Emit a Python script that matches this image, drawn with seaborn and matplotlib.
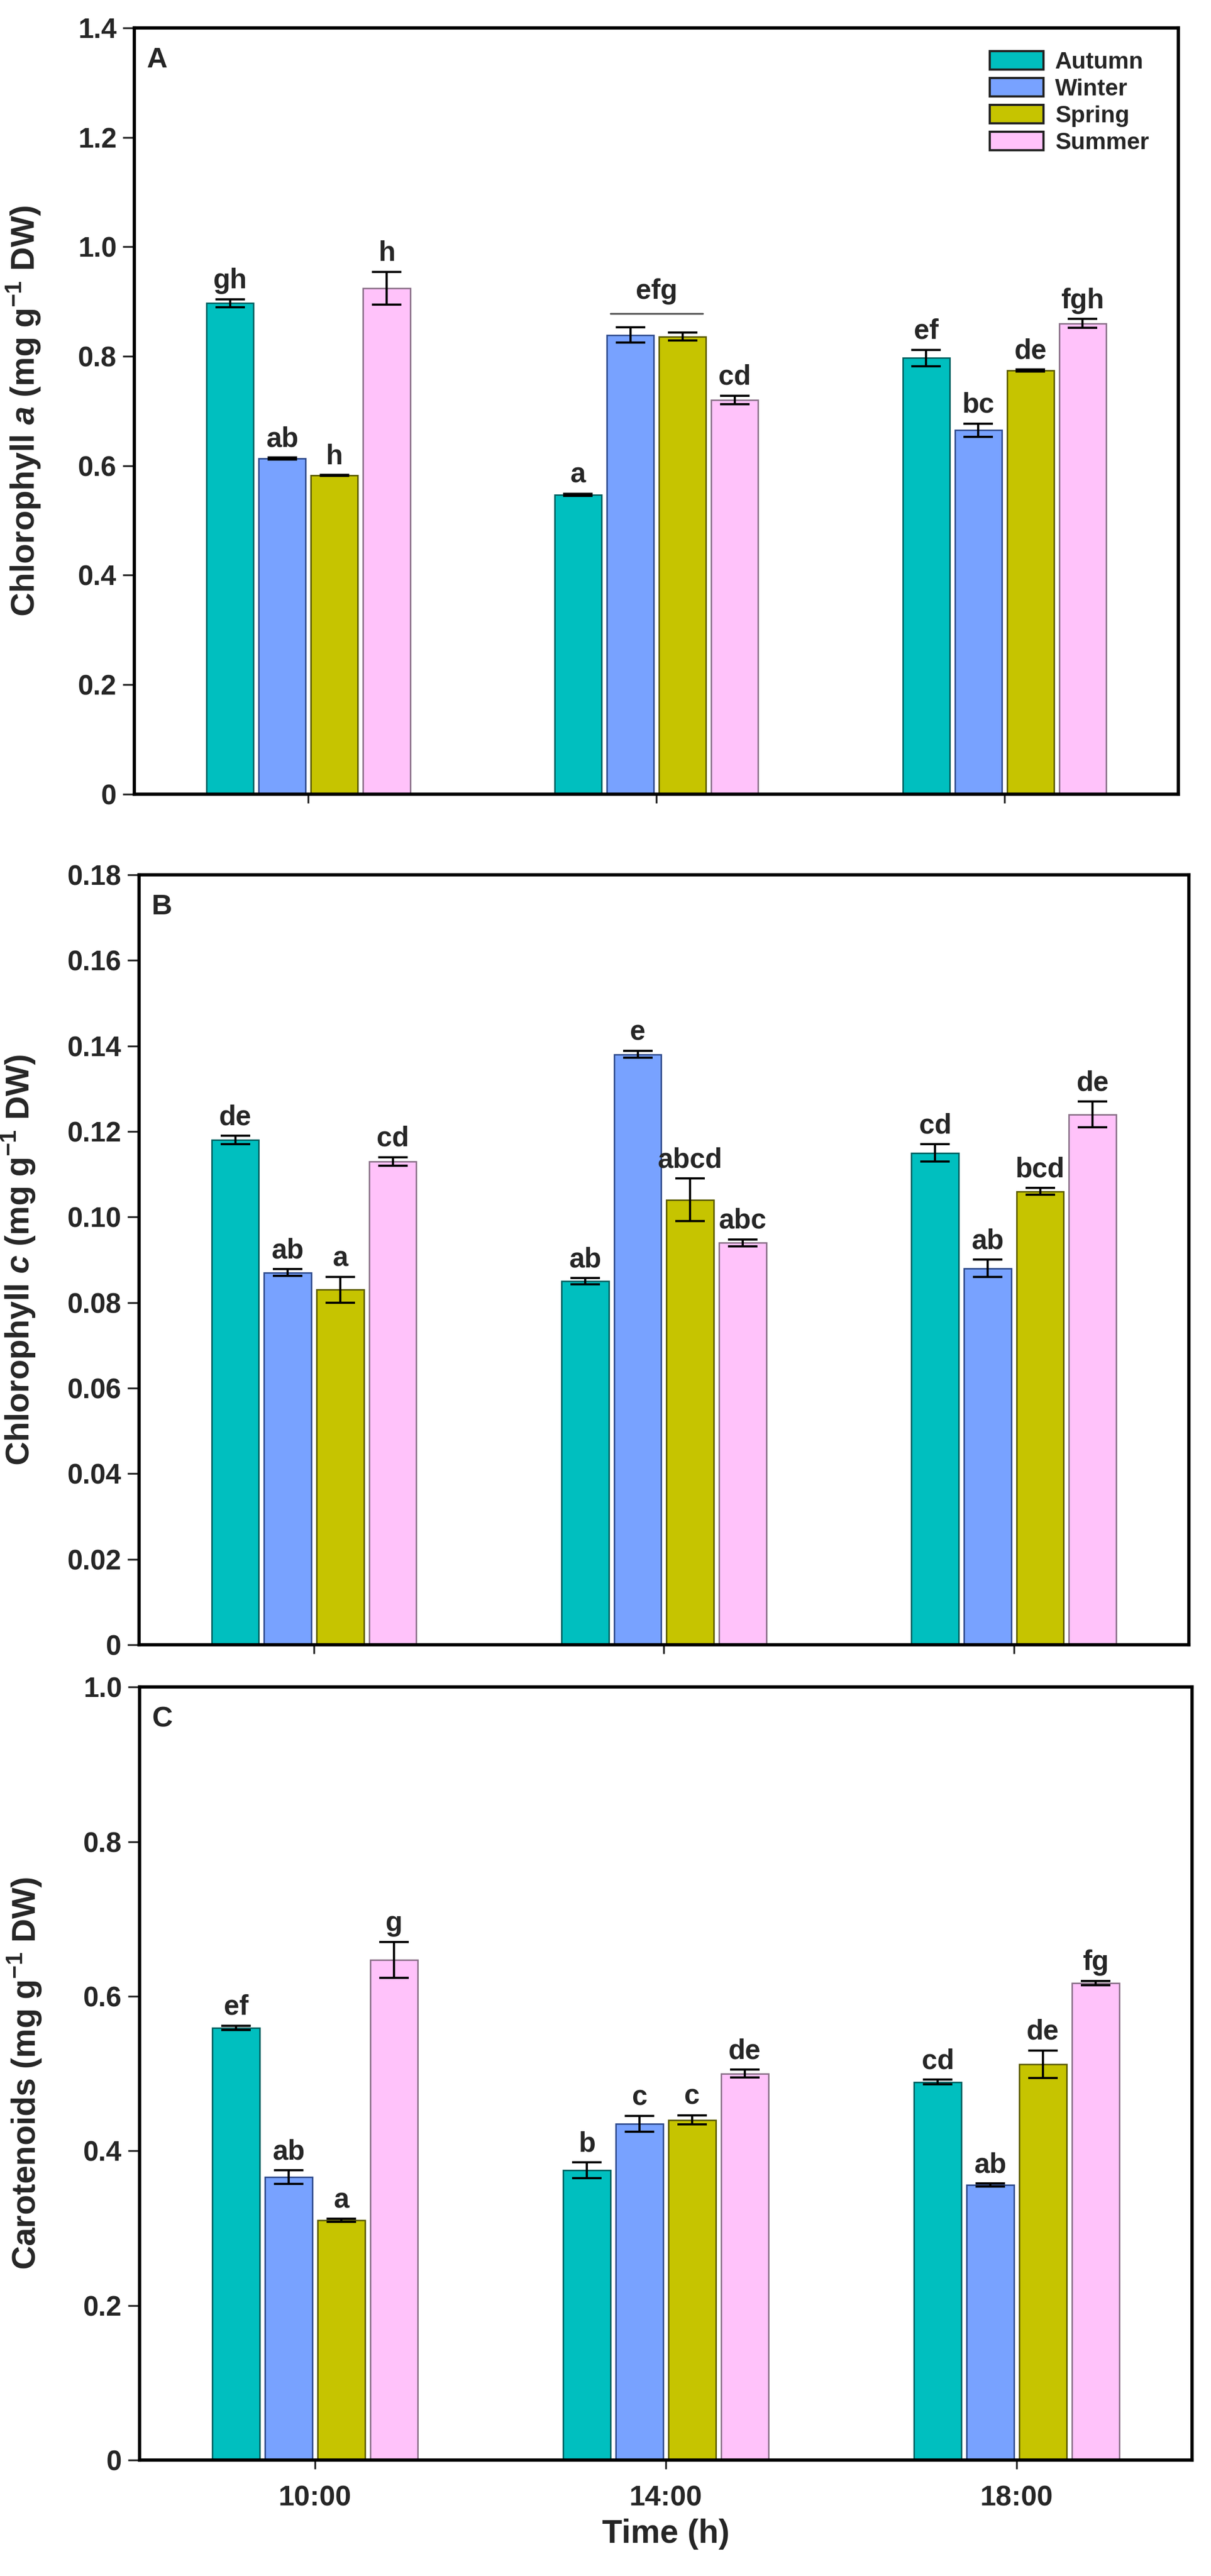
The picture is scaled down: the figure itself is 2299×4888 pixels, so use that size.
import numpy as np
import pandas as pd
import matplotlib
matplotlib.use("Agg")
import matplotlib.pyplot as plt
import seaborn as sns

# data
times = ["10:00", "14:00", "18:00"]
seasons = ["Autumn", "Winter", "Spring", "Summer"]
season_colors = ["#00BFBF", "#78A2FF", "#C6C400", "#FFC2FA"]
season_edges = ["#005F5F", "#2E4A8C", "#5A5A00", "#8A7088"]

# chlorophyll a, rows = season, cols = time
chla = [[0.897, 0.547, 0.797],
        [0.613, 0.839, 0.665],
        [0.582, 0.836, 0.774],
        [0.924, 0.720, 0.860]]
chla_err = [[0.007, 0.002, 0.015],
            [0.002, 0.014, 0.012],
            [0.001, 0.007, 0.002],
            [0.030, 0.008, 0.008]]
chla_let = [["gh", "a", "ef"],
            ["ab", "", "bc"],
            ["h", "", "de"],
            ["h", "cd", "fgh"]]

# chlorophyll c
chlc = [[0.118, 0.085, 0.115],
        [0.087, 0.138, 0.088],
        [0.083, 0.104, 0.106],
        [0.113, 0.094, 0.124]]
chlc_err = [[0.001, 0.0007, 0.002],
            [0.0008, 0.0008, 0.002],
            [0.003, 0.005, 0.0008],
            [0.001, 0.0008, 0.003]]
chlc_let = [["de", "ab", "cd"],
            ["ab", "e", "ab"],
            ["a", "abcd", "bcd"],
            ["cd", "abc", "de"]]

# carotenoids
car = [[0.559, 0.375, 0.489],
       [0.366, 0.435, 0.356],
       [0.310, 0.440, 0.512],
       [0.647, 0.500, 0.617]]
car_err = [[0.003, 0.010, 0.003],
           [0.009, 0.010, 0.002],
           [0.002, 0.006, 0.018],
           [0.023, 0.005, 0.003]]
car_let = [["ef", "b", "cd"],
           ["ab", "c", "ab"],
           ["a", "c", "de"],
           ["g", "de", "fg"]]

ylabels = [r"Chlorophyll $\mathit{a}$ (mg g$^{-1}$ DW)",
           r"Chlorophyll $\mathit{c}$ (mg g$^{-1}$ DW)",
           r"Carotenoids (mg g$^{-1}$ DW)"]
yticks_a = [0, 0.2, 0.4, 0.6, 0.8, 1.0, 1.2, 1.4]
yticklabels_a = ["0", "0.2", "0.4", "0.6", "0.8", "1.0", "1.2", "1.4"]
yticks_c = [0, 0.02, 0.04, 0.06, 0.08, 0.10, 0.12, 0.14, 0.16, 0.18]
yticklabels_c = ["0", "0.02", "0.04", "0.06", "0.08", "0.10", "0.12", "0.14", "0.16", "0.18"]
yticks_car = [0, 0.2, 0.4, 0.6, 0.8, 1.0]
yticklabels_car = ["0", "0.2", "0.4", "0.6", "0.8", "1.0"]
panel_tags = ["A", "B", "C"]

sns.set_style("white")
plt.rcParams["font.family"] = ["Liberation Sans", "DejaVu Sans"]
plt.rcParams["font.weight"] = "bold"
plt.rcParams["mathtext.fontset"] = "custom"
plt.rcParams["mathtext.rm"] = "Liberation Sans:bold"
plt.rcParams["mathtext.it"] = "Liberation Sans:italic:bold"
plt.rcParams["mathtext.bf"] = "Liberation Sans:bold"


def to_df(vals, errs, lets):
    rows = []
    for i, s in enumerate(seasons):
        for j, t in enumerate(times):
            rows.append({"time": t, "season": s, "val": vals[i][j],
                         "err": errs[i][j], "let": lets[i][j]})
    return pd.DataFrame(rows)


fig = plt.figure(figsize=(22.99, 48.88), dpi=100)
axes_pos = [[0.1109, 0.6917, 0.8622, 0.2975],
            [0.1148, 0.3615, 0.8669, 0.2989],
            [0.1153, 0.0450, 0.8691, 0.3001]]
label_x = [-0.088, -0.097, -0.091]

panels = [(chla, chla_err, chla_let, yticks_a, yticklabels_a),
          (chlc, chlc_err, chlc_let, yticks_c, yticklabels_c),
          (car, car_err, car_let, yticks_car, yticklabels_car)]

for k, (vals, errs, lets, yt, ytl) in enumerate(panels):
    ax = fig.add_axes(axes_pos[k])
    df = to_df(vals, errs, lets)
    sns.barplot(data=df, x="time", y="val", hue="season", order=times,
                hue_order=seasons, palette=season_colors, errorbar=None,
                saturation=1, width=0.6, gap=0.1, linewidth=2, ax=ax,
                legend=(k == 0))
    bar_conts = list(ax.containers[:len(seasons)])

    for i, cont in enumerate(bar_conts):
        sub = df[df["season"] == seasons[i]].set_index("time").loc[times]
        for j, bar in enumerate(cont):
            bar.set_edgecolor(season_edges[i])
            xc = bar.get_x() + bar.get_width() / 2
            h = bar.get_height()
            e = sub["err"].iloc[j]
            ax.errorbar(xc, h, yerr=e, color="black", capsize=20,
                        elinewidth=3, capthick=3, zorder=5)
            lt = sub["let"].iloc[j]
            if lt:
                ax.annotate(lt, (xc, h + e), xytext=(0, 15),
                            textcoords="offset points", ha="center",
                            va="baseline", fontsize=38, fontweight="bold")

    if k == 0:
        # shared letter over winter and spring at 14:00
        b1 = bar_conts[1][1]
        b2 = bar_conts[2][1]
        x0 = b1.get_x() + 0.01
        x1 = b2.get_x() + b2.get_width() - 0.01
        ax.plot([x0, x1], [0.878, 0.878], color="#555555", lw=2.5)
        ax.text((x0 + x1) / 2, 0.905, "efg", ha="center", va="baseline",
                fontsize=38, fontweight="bold")
        leg = ax.legend(loc="upper left", bbox_to_anchor=(0.808, 0.985),
                        frameon=False, fontsize=32, handlelength=2.3,
                        handleheight=0.85, handletextpad=0.5,
                        labelspacing=0.2, borderpad=0)
        for txt in leg.get_texts():
            txt.set_fontweight("bold")
        for p in leg.get_patches():
            p.set_edgecolor("#222222")
            p.set_linewidth(3)

    ax.set_xlim(-0.5, 2.5)
    ax.set_ylim(yt[0], yt[-1])
    ax.set_yticks(yt)
    ax.set_yticklabels(ytl)
    ax.set_xlabel("")
    ax.set_ylabel(ylabels[k], fontsize=45, fontweight="bold")
    ax.yaxis.set_label_coords(label_x[k], 0.5)
    for sp in ax.spines.values():
        sp.set_visible(True)
        sp.set_linewidth(4.5)
        sp.set_color("black")
    ax.tick_params(axis="y", which="major", direction="out", length=16,
                   width=2.5, labelsize=38, pad=8, left=True)
    ax.tick_params(axis="x", which="major", direction="out", length=12,
                   width=2.5, labelsize=39, pad=22, bottom=True)
    if k < 2:
        ax.set_xticklabels([])
    else:
        ax.set_xlabel("Time (h)", fontsize=45, fontweight="bold", labelpad=10)
    ax.text(0.012, 0.975, panel_tags[k], transform=ax.transAxes, ha="left",
            va="top", fontsize=39, fontweight="bold")

fig.savefig("out.png", dpi=100, facecolor="white")
